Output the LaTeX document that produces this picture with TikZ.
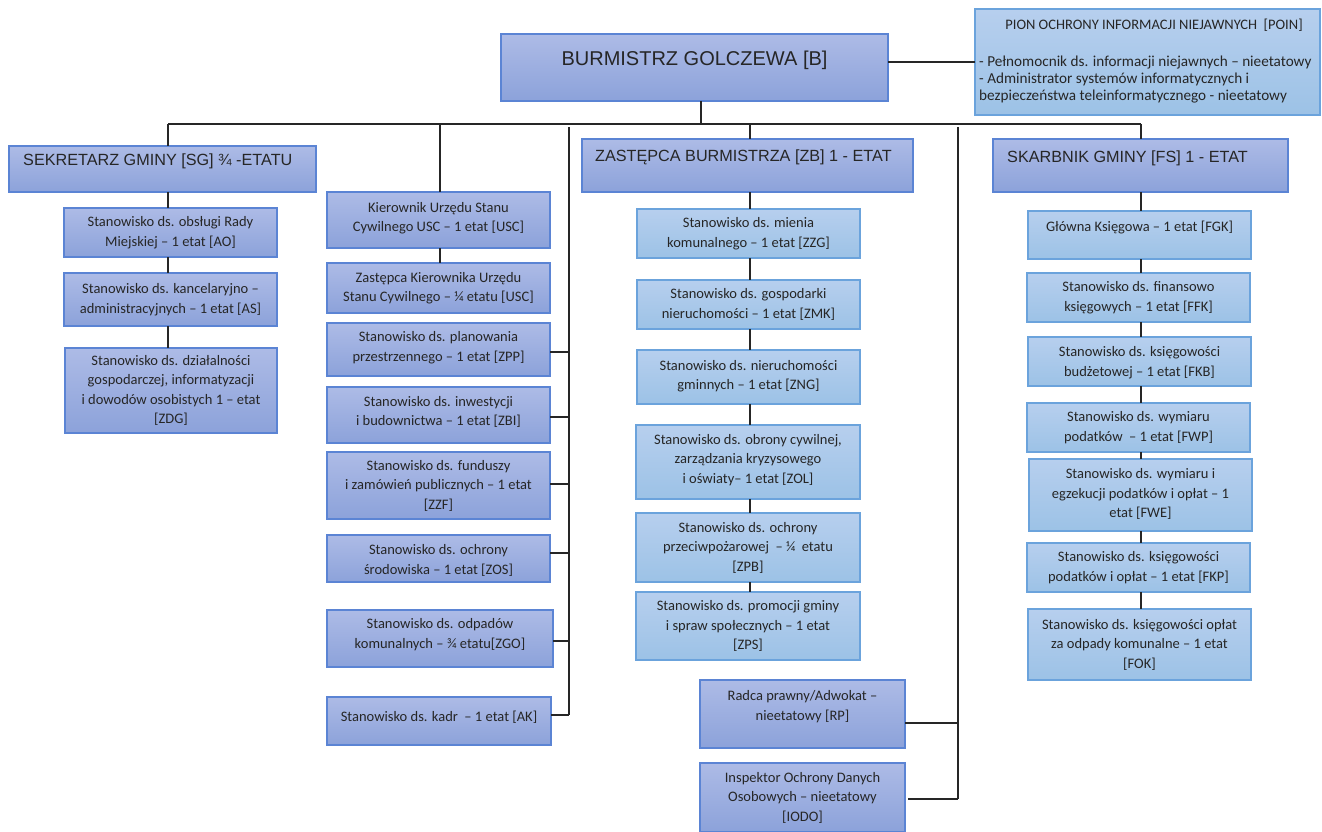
\documentclass[tikz,border=0pt]{standalone}
\usepackage{fontspec}
\setmainfont{Carlito}
\newfontfamily\arialf{Liberation Sans}
\definecolor{dkTop}{HTML}{ADBBE6}
\definecolor{dkBot}{HTML}{8CA2DA}
\definecolor{dkLine}{HTML}{5B84D4}
\definecolor{ltTop}{HTML}{B7CFEE}
\definecolor{ltBot}{HTML}{9CC2E6}
\definecolor{ltLine}{HTML}{6BA3DC}
\definecolor{lnC}{HTML}{262626}
\tikzset{
 dk/.style={draw=dkLine, line width=1.3pt, top color=dkTop, bottom color=dkBot, inner sep=0pt, outer sep=0pt},
 lt/.style={draw=ltLine, line width=1.3pt, top color=ltTop, bottom color=ltBot, inner sep=0pt, outer sep=0pt},
 small/.style={font=\fontsize{14.5}{19.5}\selectfont, align=center, inner sep=0pt, text=black!85},
 big/.style={font=\arialf\fontsize{16.2}{19}\selectfont, inner sep=0pt, anchor=west, text=black!85},
 conn/.style={draw=lnC, line width=1.2pt},
}
\newcommand\boxonly[6]{\node[#1, minimum width={#5-#3}, minimum height={#6-#4}, anchor=north west] (#2) at (#3,-#4) {};}
\newcommand\obox[8]{\boxonly{#1}{#2}{#3}{#4}{#5}{#6}\node[small] (#2t) at ([yshift=#8]#2.center) {#7};}
\begin{document}
\begin{tikzpicture}[x=1pt,y=1pt]
\useasboundingbox (0,0) rectangle (1322,-832);

% ---- top level
\boxonly{dk}{B}{501}{34}{888}{101}
\node[font=\arialf\fontsize{20}{24}\selectfont, inner sep=0pt, text=black!85] (Bt) at ([yshift=7.5]B.center) {BURMISTRZ GOLCZEWA [B]};

\boxonly{lt}{POIN}{975}{9}{1320}{115}
\node[small] (POINa) at (1154,-25) {PION OCHRONY INFORMACJI NIEJAWNYCH \ [POIN]};
\node[small, align=left, anchor=west, font=\fontsize{15.2}{17}\selectfont] (POINb) at (979,-79.5) {- Pełnomocnik ds. informacji niejawnych – nieetatowy\\- Administrator systemów informatycznych i\\bezpieczeństwa teleinformatycznego - nieetatowy};

% ---- SG column
\boxonly{dk}{SG}{9}{146}{316}{192}
\node[big] (SGt) at ([xshift=14, yshift=8]SG.west) {SEKRETARZ GMINY [SG] ¾ -ETATU};
\obox{dk}{AO}{64}{208}{277}{257}{Stanowisko ds. obsługi Rady\\Miejskiej – 1 etat [AO]}{0}
\obox{dk}{AS}{64}{273}{277}{326}{Stanowisko ds. kancelaryjno –\\administracyjnych – 1 etat [AS]}{0}
\obox{dk}{ZDG}{65}{348}{277}{433}{Stanowisko ds. działalności\\gospodarczej, informatyzacji\\i dowodów osobistych 1 – etat\\{}[ZDG]}{0}

% ---- USC column
\obox{dk}{USC}{327}{192}{550}{248}{Kierownik Urzędu Stanu\\Cywilnego USC – 1 etat [USC]}{2}
\obox{dk}{ZUSC}{327}{263}{550}{313}{Zastępca Kierownika Urzędu\\Stanu Cywilnego – ¼ etatu [USC]}{0}
\obox{dk}{ZPP}{327}{323}{550}{376}{Stanowisko ds. planowania\\przestrzennego – 1 etat [ZPP]}{2}
\obox{dk}{ZBI}{327}{387}{550}{443}{Stanowisko ds. inwestycji\\i budownictwa – 1 etat [ZBI]}{3}
\obox{dk}{ZZF}{327}{452}{550}{519}{Stanowisko ds. funduszy\\i zamówień publicznych – 1 etat\\{}[ZZF]}{0}
\obox{dk}{ZOS}{327}{535}{550}{582}{Stanowisko ds. ochrony\\środowiska – 1 etat [ZOS]}{-2}
\obox{dk}{ZGO}{327}{610}{553}{667}{Stanowisko ds. odpadów\\komunalnych – ¾ etatu[ZGO]}{4}
\obox{dk}{AK}{327}{697}{551}{745}{Stanowisko ds. kadr \ – 1 etat [AK]}{4}

% ---- ZB column
\boxonly{dk}{ZB}{582}{139}{913}{192}
\node[big] (ZBt) at ([xshift=13, yshift=8.5]ZB.west) {ZASTĘPCA BURMISTRZA [ZB] 1 - ETAT};
\obox{lt}{ZZG}{637}{209}{860}{258}{Stanowisko ds. mienia\\komunalnego – 1 etat [ZZG]}{0}
\obox{lt}{ZMK}{637}{280}{860}{329}{Stanowisko ds. gospodarki\\nieruchomości – 1 etat [ZMK]}{0}
\obox{lt}{ZNG}{637}{350}{860}{404}{Stanowisko ds. nieruchomości\\gminnych – 1 etat [ZNG]}{1}
\obox{lt}{ZOL}{636}{425}{860}{499}{Stanowisko ds. obrony cywilnej,\\zarządzania kryzysowego\\i oświaty– 1 etat [ZOL]}{2}
\obox{lt}{ZPB}{636}{513}{860}{582}{Stanowisko ds. ochrony\\przeciwpożarowej \ – ¼ \ etatu\\{}[ZPB]}{0}
\obox{lt}{ZPS}{636}{592}{860}{660}{Stanowisko ds. promocji gminy\\i spraw społecznych – 1 etat\\{}[ZPS]}{0}
\obox{dk}{RP}{700}{680}{905}{748}{Radca prawny/Adwokat –\\nieetatowy [RP]}{7.5}
\obox{dk}{IODO}{700}{763}{905}{832}{Inspektor Ochrony Danych\\Osobowych – nieetatowy\\{}[IODO]}{0}

% ---- FS column
\boxonly{dk}{FS}{993}{139}{1288}{192}
\node[big] (FSt) at ([xshift=14, yshift=7.5]FS.west) {SKARBNIK GMINY [FS] 1 - ETAT};
\obox{lt}{FGK}{1028}{211}{1251}{259}{Główna Księgowa – 1 etat [FGK]}{7}
\obox{lt}{FFK}{1027}{273}{1250}{322}{Stanowisko ds. finansowo\\księgowych – 1 etat [FFK]}{0}
\obox{lt}{FKB}{1028}{337}{1251}{386}{Stanowisko ds. księgowości\\budżetowej – 1 etat [FKB]}{-1}
\obox{lt}{FWP}{1027}{403}{1250}{452}{Stanowisko ds. wymiaru\\podatków \ – 1 etat [FWP]}{0}
\obox{lt}{FWE}{1029}{459}{1252}{531}{Stanowisko ds. wymiaru i\\egzekucji podatków i opłat – 1\\etat [FWE]}{1}
\obox{lt}{FKP}{1027}{543}{1250}{592}{Stanowisko ds. księgowości\\podatków i opłat – 1 etat [FKP]}{0}
\obox{lt}{FOK}{1028}{609}{1251}{680}{Stanowisko ds. księgowości opłat\\za odpady komunalne – 1 etat\\{}[FOK]}{0}

% ---- connectors
\coordinate (cSG) at (168,-124);
\coordinate (cU) at (440,-124);
\coordinate (cM) at (569,-127);
\coordinate (cB) at (701,-124);
\coordinate (cZB) at (750,-124);
\coordinate (cR) at (958,-127);
\coordinate (cFS) at (1141,-124);

\draw[conn] (cSG) -- (cFS);
\draw[conn] (B.south -| cB) -- (cB);
\draw[conn] (POIN.west) -- (POIN.west -| B.east);

\draw[conn] (cSG) -- (SG.north -| cSG);
\draw[conn] (SG.south -| cSG) -- (AO.north -| cSG);
\draw[conn] (AO.south -| cSG) -- (AS.north -| cSG);
\draw[conn] (AS.south -| cSG) -- (ZDG.north -| cSG);

\draw[conn] (cU) -- (USC.north -| cU);
\draw[conn] (USC.south -| cU) -- (ZUSC.north -| cU);

\path ([yshift=-2.5]ZPP.east) coordinate (sZPP)
      ([yshift=-2]ZBI.east) coordinate (sZBI)
      ([yshift=1.5]ZZF.east) coordinate (sZZF)
      ([yshift=5.5]ZOS.east) coordinate (sZOS)
      ([yshift=-2.5]ZGO.east) coordinate (sZGO)
      ([yshift=6]AK.east) coordinate (sAK);
\draw[conn] (cM) -- (cM |- sAK);
\foreach \s in {sZPP,sZBI,sZZF,sZOS,sZGO,sAK} \draw[conn] (\s) -- (\s -| cM);

\draw[conn] (cZB) -- (ZB.north -| cZB);
\draw[conn] (ZB.south -| cZB) -- (ZZG.north -| cZB);
\draw[conn] (ZZG.south -| cZB) -- (ZMK.north -| cZB);
\draw[conn] (ZMK.south -| cZB) -- (ZNG.north -| cZB);
\draw[conn] (ZNG.south -| cZB) -- (ZOL.north -| cZB);
\draw[conn] (ZOL.south -| cZB) -- (ZPB.north -| cZB);
\draw[conn] (ZPB.south -| cZB) -- (ZPS.north -| cZB);

\path ([yshift=-9]RP.east) coordinate (sRP)
      ([xshift=3, yshift=-1.5]IODO.east) coordinate (sIODO);
\draw[conn] (cR) -- (cR |- sIODO);
\draw[conn] (sRP) -- (sRP -| cR);
\draw[conn] (sIODO) -- (sIODO -| cR);

\draw[conn] (cFS) -- (FS.north -| cFS);
\draw[conn] (FS.south -| cFS) -- (FGK.north -| cFS);
\draw[conn] (FGK.south -| cFS) -- (FFK.north -| cFS);
\draw[conn] (FFK.south -| cFS) -- (FKB.north -| cFS);
\draw[conn] (FKB.south -| cFS) -- (FWP.north -| cFS);
\draw[conn] (FWP.south -| cFS) -- (FWE.north -| cFS);
\draw[conn] (FWE.south -| cFS) -- (FKP.north -| cFS);
\draw[conn] (FKP.south -| cFS) -- (FOK.north -| cFS);
\end{tikzpicture}
\end{document}
